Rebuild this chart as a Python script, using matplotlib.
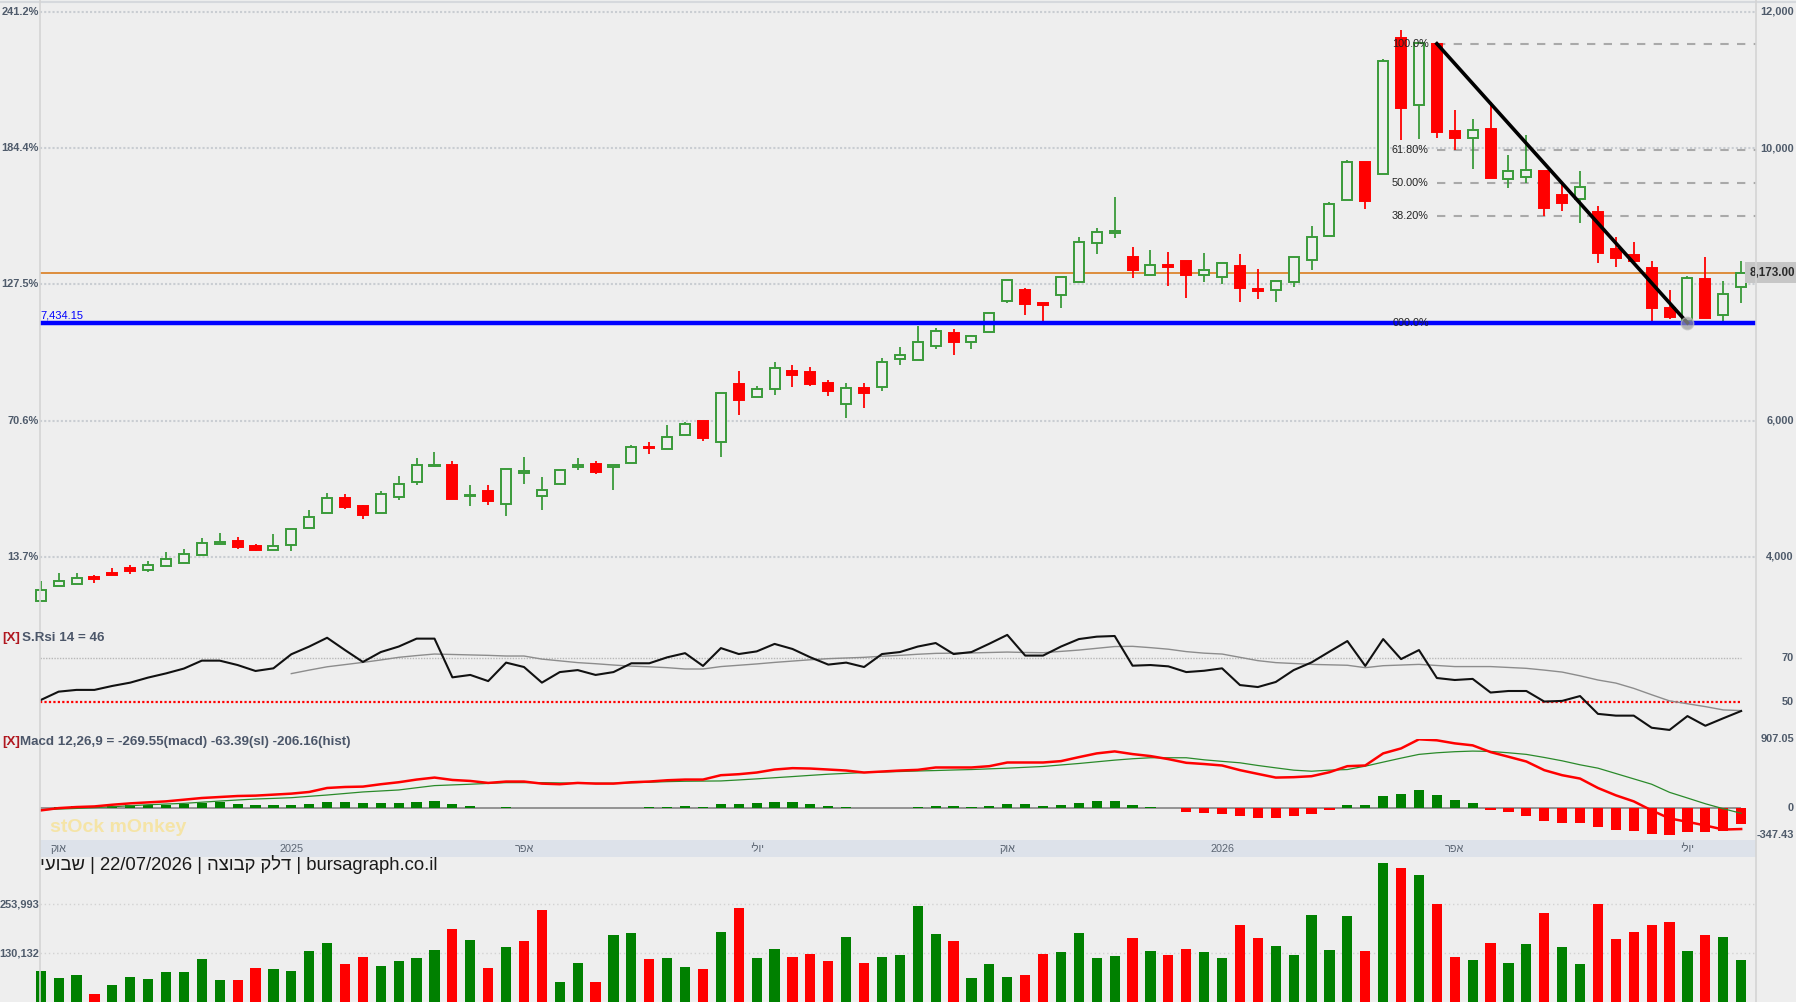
import matplotlib
matplotlib.use("Agg")
import matplotlib.pyplot as plt
import matplotlib.transforms as mtransforms
from matplotlib.patches import Rectangle
from matplotlib.lines import Line2D
import numpy as np

plt.rcParams['font.family'] = ['Liberation Sans', 'DejaVu Sans']

# ---- weekly candles ----
opens = [3353, 3573, 3602, 3710, 3764, 3837, 3808, 3866, 3905, 4028, 4192, 4228,
         4155, 4101, 4174, 4424, 4644, 4859, 4747, 4644, 4884, 5094, 5329, 5348,
         4893, 4962, 4776, 5226, 4893, 5070, 5319, 5358, 5319, 5373, 5612, 5578,
         5784, 5994, 5686, 6537, 6346, 6463, 6728, 6713, 6551, 6243, 6473, 6493,
         6904, 6889, 7094, 7280, 7158, 7300, 7755, 7911, 7720, 7838, 8033, 8606,
         8752, 8395, 8136, 8278, 8342, 8137, 8103, 8269, 7927, 7917, 8029, 8357,
         8709, 9237, 9790, 9619, 11610, 10631, 11531, 10250, 10152, 10274, 9545, 9580,
         9663, 9311, 9252, 9061, 8518, 8430, 8244, 7648, 7467, 8078, 7550, 7966]
highs = [3646, 3759, 3759, 3734, 3837, 3876, 3935, 4067, 4116, 4277, 4346, 4287,
         4184, 4331, 4414, 4688, 4937, 4923, 4761, 4967, 5187, 5451, 5539, 5407,
         5050, 5050, 5295, 5466, 5172, 5280, 5451, 5407, 5353, 5642, 5686, 5935,
         5979, 5994, 6410, 6728, 6507, 6865, 6816, 6791, 6595, 6551, 6551, 6913,
         7080, 7388, 7353, 7339, 7251, 7583, 8068, 7940, 7730, 8112, 8694, 8826,
         9281, 8547, 8503, 8474, 8342, 8455, 8308, 8445, 8220, 8049, 8406, 8856,
         9213, 9819, 9790, 11301, 11732, 11536, 11531, 10558, 10426, 10670, 9898, 10191,
         9663, 9497, 9663, 9149, 8690, 8626, 8342, 7917, 8122, 8406, 8049, 8342]
lows = [3353, 3573, 3602, 3622, 3729, 3749, 3783, 3866, 3905, 4028, 4189, 4121,
        4091, 4101, 4091, 4424, 4644, 4707, 4556, 4644, 4835, 5060, 5314, 4854,
        4752, 4766, 4605, 5074, 4688, 5070, 5280, 5216, 4982, 5373, 5515, 5578,
        5784, 5700, 5471, 6082, 6346, 6380, 6498, 6507, 6366, 6043, 6189, 6439,
        6820, 6889, 7055, 6967, 7055, 7300, 7725, 7549, 7407, 7652, 8033, 8449,
        8684, 8097, 8136, 7980, 7804, 8039, 8005, 7746, 7785, 7746, 7966, 8210,
        8709, 9237, 9105, 9619, 10118, 10132, 10142, 9971, 9687, 9555, 9409, 9482,
        9008, 9081, 8905, 8318, 8259, 8308, 7452, 7491, 7434.15, 7511, 7452, 7731]
closes = [3516.6, 3651, 3695, 3671, 3739, 3798, 3886, 3964, 4047, 4200, 4212, 4150,
          4106, 4160, 4414, 4590, 4869, 4737, 4619, 4918, 5065, 5345, 5356, 4854,
          4913, 4825, 5295, 5255, 4986, 5280, 5353, 5251, 5353, 5612, 5602, 5764,
          5955, 5749, 6410, 6307, 6468, 6777, 6674, 6542, 6439, 6483, 6410, 6864,
          6967, 7158, 7319, 7158, 7241, 7583, 8068, 7715, 7701, 8112, 8625, 8772,
          8787, 8214, 8283, 8258, 8137, 8210, 8308, 7951, 7907, 8049, 8406, 8699,
          9179, 9800, 9228, 11282, 10582, 11536, 10240, 10142, 10265, 9555, 9663, 9678,
          9115, 9188, 9433, 8455, 8381, 8347, 7648, 7526, 8088, 7511, 7853, 8173]
volumes = [85500, 67800, 75400, 27300, 50100, 70300, 65300, 83000, 83000, 115800, 62700, 62700,
           93100, 90500, 85500, 136000, 156300, 103200, 120900, 98100, 110800, 118300, 138600, 191600,
           163800, 93100, 146100, 161300, 239700, 57700, 105700, 57700, 176500, 180700, 114900, 117500,
           94700, 89700, 183200, 243900, 117500, 140200, 120000, 127600, 109900, 170600, 104800, 120000,
           125100, 249000, 178200, 160500, 66900, 102300, 69500, 74500, 127600, 132700, 180700, 117500,
           122500, 168100, 135200, 125100, 140200, 132700, 117500, 201000, 168100, 147900, 126000, 226300,
           137800, 223700, 135200, 357700, 345100, 327400, 254000, 120000, 112500, 155500, 104900, 153000,
           231300, 145300, 102400, 254000, 165600, 183300, 201000, 208600, 135200, 175700, 170600, 112500]

# ---- indicators ----
rsi = [50.9, 54.7, 55.5, 55.5, 57.3, 58.8, 61.1, 63.0, 65.2, 68.8, 68.8, 66.8,
       64.1, 65.3, 71.7, 75.2, 79.2, 73.6, 68.2, 72.7, 75.2, 78.8, 78.8, 61.2,
       62.3, 59.5, 67.9, 65.9, 58.8, 63.6, 64.5, 62.3, 63.6, 67.6, 67.6, 70.3,
       72.2, 66.4, 74.5, 71.8, 73.0, 76.4, 74.1, 70.3, 67.0, 67.9, 65.9, 71.8,
       72.7, 75.2, 76.8, 71.8, 72.7, 76.5, 80.5, 71.1, 71.1, 75.2, 78.6, 79.7,
       80.0, 66.5, 66.8, 66.2, 63.6, 64.2, 65.3, 57.7, 56.8, 59.1, 64.5, 68.0,
       72.9, 77.7, 66.4, 78.6, 69.5, 73.6, 60.9, 60.0, 60.5, 54.3, 55.0, 55.0,
       50.2, 50.5, 52.7, 44.6, 43.8, 43.8, 38.3, 37.3, 43.6, 39.2, 42.6, 45.9]
rsi_ma = [None] * 14 + [
    62.9, 64.5, 66.0, 67.0, 68.0, 69.1, 70.3, 71.1, 71.8, 71.6,
    71.4, 71.2, 70.9, 70.9, 69.5, 68.7, 67.9, 67.4, 66.8, 66.3, 66.0, 65.6,
    65.0, 65.0, 66.1, 66.7, 67.3, 68.0, 68.6, 69.2, 69.7, 70.0, 70.3, 70.8,
    71.2, 71.7, 72.1, 72.2, 72.3, 72.5, 72.7, 72.5, 72.4, 73.0, 73.6, 74.4,
    75.2, 75.3, 74.7, 74.0, 72.9, 72.2, 71.8, 70.3, 68.8, 67.9, 67.5, 67.1,
    66.9, 66.7, 65.6, 66.5, 66.8, 67.1, 66.6, 66.1, 66.1, 66.1, 65.7, 65.3,
    64.5, 63.6, 61.9, 60.0, 58.6, 56.2, 53.3, 50.5, 49.2, 47.9, 46.4, 46.1]
macd = [-26, 4, 18, 26, 48, 66, 79, 92, 114, 136, 149, 162,
        167, 180, 193, 215, 267, 280, 285, 316, 342, 377, 403, 372,
        359, 333, 351, 351, 324, 316, 333, 324, 324, 342, 351, 368,
        377, 377, 434, 447, 469, 508, 526, 521, 508, 495, 469, 482,
        495, 504, 535, 535, 535, 552, 600, 600, 600, 618, 670, 719,
        745, 710, 684, 644, 596, 580, 561, 500, 451, 403, 408, 421,
        473, 552, 561, 719, 784, 903, 890, 850, 824, 736, 675, 613,
        500, 434, 390, 267, 171, 92, -26, -131, -175, -223, -276, -269.55]
macd_signal = [-18, -9, 0, 11, 22, 35, 48, 57, 66, 81, 96, 110,
               123, 131, 140, 158, 175, 195, 215, 228, 241, 270, 298, 307,
               316, 327, 337, 337, 337, 333, 329, 329, 329, 335, 342, 350,
               355, 357, 359, 372, 386, 401, 416, 432, 447, 458, 469, 476,
               482, 489, 495, 502, 508, 517, 526, 537, 548, 568, 587, 609,
               631, 649, 662, 662, 662, 635, 615, 596, 561, 530, 500, 486,
               500, 508, 552, 605, 657, 706, 727, 741, 749, 745, 727, 706,
               666, 622, 570, 526, 456, 386, 316, 210, 136, 61, -4, -63.39]
macd_hist = [5, 13, 31, 31, 35, 39, 44, 44, 57, 66, 79, 57,
             44, 44, 44, 57, 83, 83, 70, 70, 70, 83, 96, 57,
             31, 4, 18, 4, 0, 0, 0, 0, 4, 4, 13, 22,
             35, 22, 61, 61, 74, 88, 88, 61, 35, 22, 0, 4,
             4, 22, 35, 35, 22, 35, 61, 61, 35, 48, 74, 101,
             101, 48, 22, 0, -48, -55, -70, -96, -123, -123, -96, -70,
             -18, 44, 44, 167, 188, 241, 175, 110, 70, -18, -53, -96,
             -167, -188, -188, -245, -285, -298, -333, -351, -307, -307, -289, -206.16]

month_pos = [1, 14, 27, 40, 54, 66, 79, 92]
month_labels = ["אוק", "2025", "אפר", "יולי", "אוק", "2026", "אפר", "יולי"]

price_ticks = [12000, 10000, 8000, 6000, 4000]
vol_ticks = [253993, 130132]
rsi_levels = [70, 50]
macd_range = (-347.43, 907.05)

support_level = 7434.15
fib_start, fib_end = 78, 92
fib_ratios = [1.0, 0.618, 0.5, 0.382, 0.0]
fib_names = ["100.0%", "61.80%", "50.00%", "38.20%", "000.0%"]

title_parts = ["שבועי", "22/07/2026", "דלק קבוצה", "bursagraph.co.il"]


def visual(s):
    # matplotlib has no bidi support: flip Hebrew runs to visual order
    if any('\u0590' <= ch <= '\u05ff' for ch in s):
        return s[::-1]
    return s


W, H = 1796, 1002
X0, X1 = 40, 1756
BG = '#eeeeee'
GREEN = '#3a9a3a'
RED = '#ff0000'
LABEL = '#4f5b6b'

fig = plt.figure(figsize=(W / 100, H / 100), dpi=100, facecolor=BG)


def panel(y0, y1):
    a = fig.add_axes([X0 / W, 1 - y1 / H, (X1 - X0) / W, (y1 - y0) / H])
    a.set_facecolor('none')
    for s in a.spines.values():
        s.set_visible(False)
    a.set_xticks([])
    a.set_yticks([])
    a.set_xlim(-0.04, 95.83)
    return a


ax = panel(0, 610)
ax.set_ylim(3221, 12172)
ax_rsi = panel(620, 735)
ax_rsi.set_ylim(35.0, 87.27)
ax_macd = panel(739, 835)
ax_macd.set_ylim(*macd_range)
ax_vol = panel(858, 1002)
ax_vol.set_ylim(7000, 371000)

x = np.arange(len(closes))
last = closes[-1]

# --- price panel ---
for p in price_ticks:
    ax.axhline(p, color='#c9cdd2', lw=1.5, ls=(0, (1, 1)), zorder=0)

for i in x:
    o, h, l, c = opens[i], highs[i], lows[i], closes[i]
    up = c >= o
    col = GREEN if up else RED
    ax.vlines(i, l, h, color=col, lw=1.3, zorder=2, clip_on=False)
    body = Rectangle((i - 0.28, min(o, c)), 0.56, max(abs(c - o), 10),
                     facecolor=BG if up else RED, edgecolor=col,
                     lw=1.4, zorder=3, clip_on=False)
    ax.add_patch(body)

ax.axhline(last, color='#d9730d', lw=1.1, zorder=1)
ax.axhline(support_level, color='#0000ff', lw=3.2, zorder=4)
ax.annotate(f"{support_level:,.2f}", xy=(-0.04, support_level), xytext=(0, 2),
            textcoords='offset points', ha='left', va='bottom',
            color='#0000ff', fontsize=8)

fib_high = highs[fib_start]
fib_low = lows[fib_end]
for r, name in zip(fib_ratios, fib_names):
    lvl = fib_low + r * (fib_high - fib_low)
    ax.hlines(lvl, fib_start, 95.83, colors='#a9a9a9', lw=1.5,
              linestyles=(0, (4, 4)), zorder=1)
    ax.text(fib_start - 0.45, lvl, name, ha='right', va='center',
            fontsize=7.8, color='#222222', zorder=6)
ax.plot([fib_start, fib_end], [fib_high, fib_low], color='black', lw=2.6, zorder=5)
ax.plot(fib_end, fib_low, 'o', ms=9, mfc='#9a9a9a', mec='#c0c0c0', alpha=0.7, zorder=6)

tr = mtransforms.blended_transform_factory(fig.transFigure, ax.transData)
for p in price_ticks:
    ax.text(39 / W, p, f"{(p / closes[0] - 1) * 100:.1f}%", transform=tr,
            ha='right', va='center', fontsize=7.9, fontweight='bold', color=LABEL)
    if abs(p - last) > 300:
        ax.text(1794 / W, p, f"{p:,}", transform=tr, ha='right', va='center',
                fontsize=7.9, fontweight='bold', color=LABEL)
ax.text(1795 / W, last, f"{last:,.2f}", transform=tr, ha='right', va='center',
        fontsize=8.4, fontweight='bold', color='#2a2a2a',
        bbox=dict(boxstyle='square,pad=0.35', fc='#c6c6c6', ec='none'))

# --- RSI panel ---
ax_rsi.hlines(rsi_levels[0], -0.04, x[-1], colors='#b8b8b8', lw=1, linestyles=(0, (1, 1)))
ax_rsi.hlines(rsi_levels[1], -0.04, x[-1], colors=RED, lw=1.6, linestyles=(0, (1, 1)))
ma_x = [i for i, v in enumerate(rsi_ma) if v is not None]
ax_rsi.plot(ma_x, [rsi_ma[i] for i in ma_x], color='#8c8c8c', lw=1.0)
ax_rsi.plot(x, rsi, color='#111111', lw=1.5)
tr_rsi = mtransforms.blended_transform_factory(fig.transFigure, ax_rsi.transData)
for lv in rsi_levels:
    ax_rsi.text(1794 / W, lv, str(lv), transform=tr_rsi, ha='right', va='center',
                fontsize=7.9, fontweight='bold', color=LABEL)

# --- MACD panel ---
ax_macd.hlines(0, -0.04, x[-1], colors='#7a7a7a', lw=1.1, zorder=1)
hist_cols = ['#008000' if v >= 0 else RED for v in macd_hist]
bars = ax_macd.bar(x, macd_hist, width=0.57, color=hist_cols, zorder=2)
for b in bars:
    b.set_clip_on(False)
ax_macd.plot(x, macd_signal, color='#2a8a2a', lw=0.9, zorder=3)
ax_macd.plot(x, macd, color=RED, lw=1.8, zorder=4)
tr_macd = mtransforms.blended_transform_factory(fig.transFigure, ax_macd.transData)
for v, s in [(macd_range[1], f"{macd_range[1]:.2f}"), (0, "0"),
             (macd_range[0], f"{macd_range[0]:.2f}")]:
    ax_macd.text(1794 / W, v, s, transform=tr_macd, ha='right', va='center',
                 fontsize=7.9, fontweight='bold', color=LABEL)

# --- volume panel ---
for v in vol_ticks:
    ax_vol.axhline(v, color='#d2d2d2', lw=1, ls=(0, (1, 2)), zorder=0)
vol_cols = ['#008000'] + ['#008000' if closes[i] >= closes[i - 1] else RED
                          for i in range(1, len(closes))]
vbars = ax_vol.bar(x, volumes, width=0.57, color=vol_cols, zorder=2)
for b in vbars:
    b.set_clip_on(False)
tr_vol = mtransforms.blended_transform_factory(fig.transFigure, ax_vol.transData)
for v in vol_ticks:
    ax_vol.text(39 / W, v, f"{v:,}", transform=tr_vol, ha='right', va='center',
                fontsize=7.9, fontweight='bold', color=LABEL)

# --- frame, date band, captions ---
fig.add_artist(Line2D([0, 1], [1 - 1.5 / H] * 2, color='#d6d9dd', lw=1.5))
for xx in (X0, X1):
    fig.add_artist(Line2D([xx / W] * 2, [0, 1], color='#d4d4d4', lw=1.2))
fig.add_artist(Rectangle((X0 / W, 1 - 857 / H), (X1 - X0) / W, 17 / H,
                         transform=fig.transFigure, fc='#dde2ea', ec='none'))
tr_date = mtransforms.blended_transform_factory(ax_vol.transData, fig.transFigure)
for pos, lab in zip(month_pos, month_labels):
    fig.text(pos, 1 - 848.5 / H, visual(lab), transform=tr_date, ha='center',
             va='center', fontsize=7.8, color='#5b6573')

fig.text(2 / W, 1 - 638 / H, "[X]", fontsize=9.6, fontweight='bold',
         color='#b0171f', va='center')
fig.text(22 / W, 1 - 638 / H, f"S.Rsi 14 = {rsi[-1]:.0f}", fontsize=9.6,
         fontweight='bold', color='#4b5669', va='center')
fig.text(2 / W, 1 - 742 / H, "[X]", fontsize=9.6, fontweight='bold',
         color='#b0171f', va='center')
fig.text(20 / W, 1 - 742 / H,
         f"Macd 12,26,9 = {macd[-1]:.2f}(macd) {macd_signal[-1]:.2f}(sl) {macd_hist[-1]:.2f}(hist)",
         fontsize=9.6, fontweight='bold', color='#4b5669', va='center')

fig.text(50 / W, 1 - 828 / H, "stOck mOnkey", fontsize=14, fontweight='bold',
         color='#f5e4a6', va='center')

fig.text(40 / W, 1 - 864 / H, " | ".join(visual(s) for s in title_parts),
         fontsize=13.3, color='#1a1a1a', va='center', ha='left')

fig.savefig("out.png", dpi=100, facecolor=BG)
